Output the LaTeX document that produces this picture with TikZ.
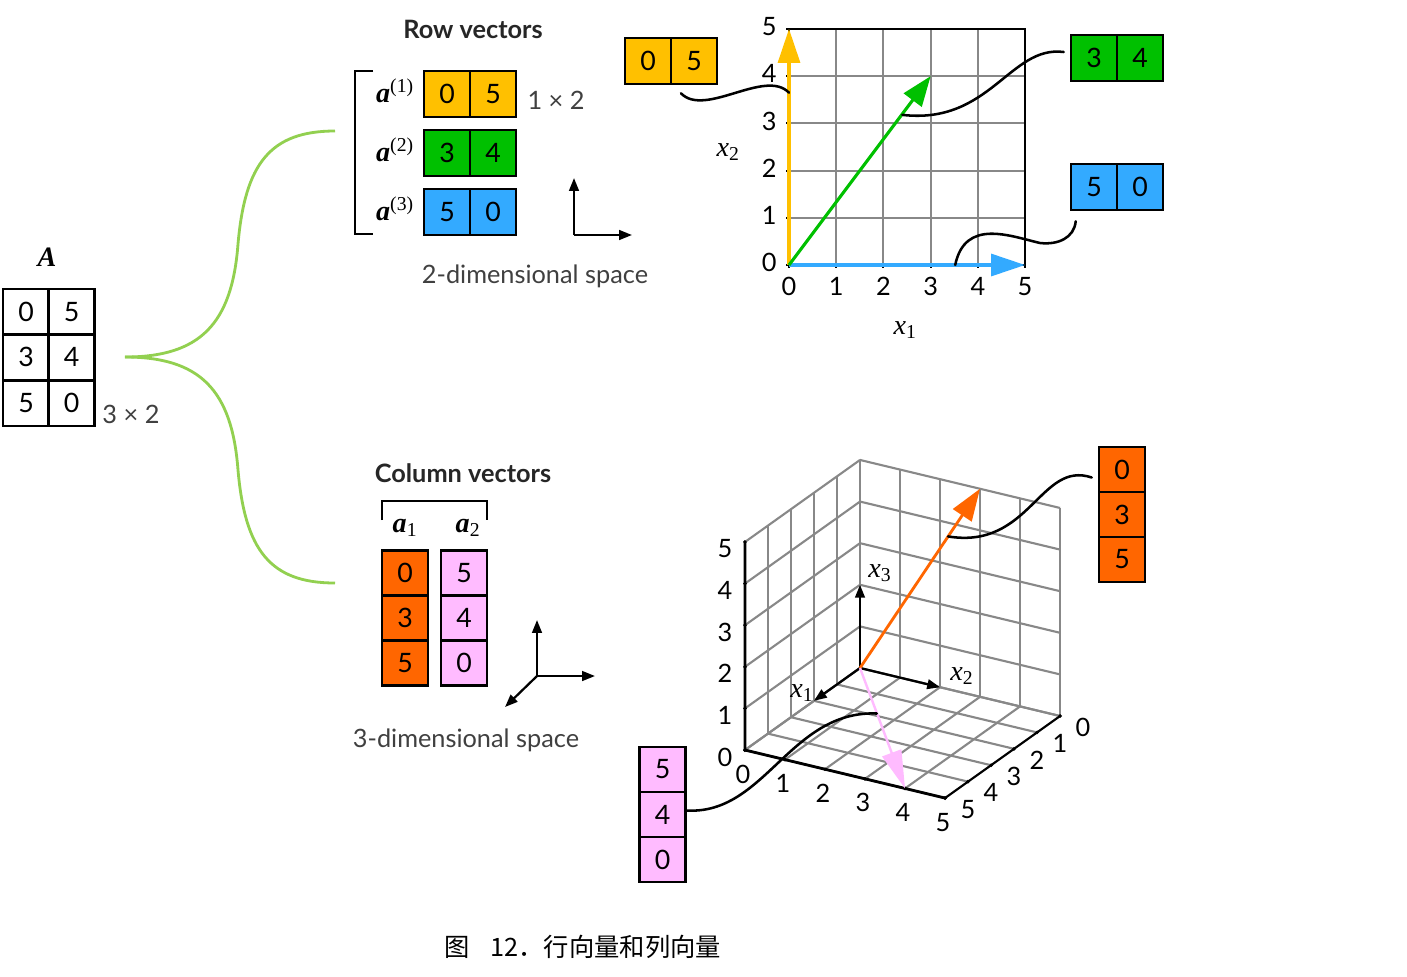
\documentclass[tikz,border=0pt]{standalone}
\usepackage[no-math]{fontspec}
\setmainfont{Lato}
\newfontfamily\cjkfont{Noto Sans CJK SC}
\newfontfamily\seriffont{Liberation Serif}
\usetikzlibrary{arrows.meta}

\definecolor{rowyellow}{HTML}{FFC000}
\definecolor{rowgreen}{HTML}{00C000}
\definecolor{rowblue}{HTML}{33AAFF}
\definecolor{colorange}{HTML}{FF6600}
\definecolor{colpink}{HTML}{FFBBFF}
\definecolor{bracegreen}{HTML}{92D050}
\definecolor{gridgray}{HTML}{888888}
\definecolor{textgray}{HTML}{404040}
\definecolor{titlegray}{HTML}{262626}

% bold vector name and italic variable
\newcommand\vecname[1]{{\seriffont\bfseries\itshape #1}}
\newcommand\varname[1]{{\seriffont\itshape #1}}

\begin{document}
\begin{tikzpicture}[x=0.025cm, y=-0.025cm,
        cell/.style={draw, line width=1.8pt, minimum width=1.15cm, minimum height=1.15cm, inner sep=0pt, font=\fontsize{19}{22}\selectfont},
        mcell/.style={cell, minimum width=1.14cm, minimum height=1.14cm, fill=white},
        ccell/.style={cell, minimum height=1.13cm},
        lbl/.style={font=\fontsize{18}{21}\selectfont, text=textgray, inner sep=0pt},
        ticklbl/.style={font=\fontsize{18}{21}\selectfont, inner sep=0pt},
        headline/.style={font=\fontsize{18}{21}\selectfont\bfseries, text=titlegray, inner sep=0pt},
        vlbl/.style={font=\fontsize{20}{24}\selectfont, inner sep=0pt},
        wave/.style={line width=1.8pt, line cap=round},
        gridline/.style={gridgray, line width=1.5pt},
        axarrow/.style={line width=1.6pt, -{Triangle[length=0.32cm, width=0.24cm]}}
    ]
    \fill[white] (0,0) rectangle (1407,976);
    \useasboundingbox (0,0) rectangle (1407,976);

    % Matrix A
    \node[vlbl] (Alabel) at (47,257) {\vecname{A}};
    \foreach \r/\c/\v in {1/1/0, 1/2/5, 2/1/3, 2/2/4, 3/1/5, 3/2/0}
        \node[mcell] (a\r\c) at ({-19.5+45.5*\c}, {266+45.7*\r}) {\v};
    \node[lbl] (Asize) at (131,414) {3 × 2};

    % green brace
    \coordinate (fork) at (125,357);
    \coordinate (rowend) at (335,131);
    \coordinate (colend) at (335,583);
    \draw[bracegreen, line width=2pt] (fork) .. controls (200,357) and (232,324) .. (238,244)
        .. controls (245,164) and (270,131) .. (rowend);
    \draw[bracegreen, line width=2pt] (fork) .. controls (200,357) and (232,390) .. (238,470)
        .. controls (245,550) and (270,583) .. (colend);

    % Row vectors
    \node[headline] (rowtitle) at (473,29) {Row vectors};
    \draw[line width=1.7pt] (373,71) -- (355,71) -- (355,234) -- (373,234);
    \foreach \n/\y/\col/\u/\v in {1/94/rowyellow/0/5, 2/153/rowgreen/3/4, 3/212/rowblue/5/0} {
        \node[cell, fill=\col] (rowl\n) at (447,\y) {\u};
        \node[cell, fill=\col] (rowr\n) at (493,\y) {\v};
        \node[vlbl] (rowlab\n) at (395,\y-3) {\vecname{a}\textsuperscript{\seriffont(\n)}};
    }
    \node[lbl] (rowsize) at (556,100) {1 × 2};
    \coordinate (ax2o) at (574,235);
    \coordinate (ax2up) at (574,178);
    \coordinate (ax2rt) at (632,235);
    \draw[axarrow] (ax2o) -- (ax2up);
    \draw[axarrow] (ax2o) -- (ax2rt);
    \node[lbl] (space2) at (535,276) {2-dimensional space};

    % Column vectors
    \node[headline] (coltitle) at (463,473) {Column vectors};
    \draw[line width=1.7pt] (382,520) -- (382,501) -- (487,501) -- (487,520);
    \node[vlbl] (collab1) at (405,528) {\vecname{a}\textsubscript{\seriffont 1}};
    \node[vlbl] (collab2) at (468,528) {\vecname{a}\textsubscript{\seriffont 2}};
    \foreach \n/\y/\u/\v in {1/573/0/5, 2/618/3/4, 3/663/5/0} {
        \node[ccell, fill=colorange] (colo\n) at (405,\y) {\u};
        \node[ccell, fill=colpink] (colp\n) at (464,\y) {\v};
    }
    \coordinate (ax3o) at (537,676);
    \coordinate (ax3up) at (537,620);
    \coordinate (ax3rt) at (595,676);
    \coordinate (ax3dn) at (505,707);
    \draw[axarrow] (ax3o) -- (ax3up);
    \draw[axarrow] (ax3o) -- (ax3rt);
    \draw[axarrow] (ax3o) -- (ax3dn);
    \node[lbl] (space3) at (466,740) {3-dimensional space};

    % 2D plane
    \begin{scope}[shift={(789,265)}, x=1.18cm, y=1.18cm]
        \foreach \i in {1,...,4} {
            \draw[gridline] (\i,0) -- (\i,5);
            \draw[gridline] (0,\i) -- (5,\i);
        }
        \draw[line width=1.8pt] (0,0) -- (0,5) -- (5,5) -- (5,0) -- cycle;
        \foreach \i in {0,...,5} {
            \draw[line width=1.4pt] (\i,0) -- (\i,-0.07);
            \draw[line width=1.4pt] (0,\i) -- (-0.07,\i);
            \node[ticklbl] (pxt\i) at (\i,-0.45) {\i};
            \node[ticklbl] (pyt\i) at (-0.42,\i+0.05) {\i};
        }
        \coordinate (o2) at (0,0);
        \coordinate (tipy) at (0,5);
        \coordinate (tipb) at (5,0);
        \coordinate (tipg) at (3,4);
        \draw[rowyellow, line width=2.2pt, -{Triangle[length=0.85cm, width=0.55cm]}] (o2) -- (tipy);
        \draw[rowblue, line width=2.2pt, -{Triangle[length=0.85cm, width=0.55cm]}] (o2) -- (tipb);
        \draw[rowgreen, line width=2.2pt, -{Triangle[length=0.75cm, width=0.55cm]}] (o2) -- (tipg);
        \node[vlbl] (px2) at (-1.29,2.39) {\varname{x}\textsubscript{\seriffont 2}};
        \node[vlbl] (px1) at (2.46,-1.38) {\varname{x}\textsubscript{\seriffont 1}};
        \coordinate (yend) at (0,3.65);
        \coordinate (gend) at (2.4,3.18);
        \coordinate (bend) at (3.52,0);
    \end{scope}

    \node[cell, fill=rowyellow] (pya) at (648,61) {0};
    \node[cell, fill=rowyellow] (pyb) at (694,61) {5};
    \node[cell, fill=rowgreen] (pga) at (1094,58) {3};
    \node[cell, fill=rowgreen] (pgb) at (1140,58) {4};
    \node[cell, fill=rowblue] (pba) at (1094,187) {5};
    \node[cell, fill=rowblue] (pbb) at (1140,187) {0};

    \draw[wave] ([xshift=0.28cm, yshift=-0.2cm]pyb.south west) .. controls (705,118) and (765,68) .. (yend);
    \draw[wave] ([xshift=-0.15cm, yshift=0.15cm]pga.west) .. controls (1010,45) and (990,125) .. (gend);
    \draw[wave] ([xshift=0.15cm, yshift=-0.25cm]pba.south west) .. controls (1074,238) and (1058,245) .. (1040,243)
        .. controls (1010,236) and (965,218) .. (bend);

    % 3D space
    \begin{scope}[shift={(860,668)}, x={(-0.575cm,-0.41cm)}, y={(1cm,-0.24cm)}, z={(0cm,1.04cm)}]
        \foreach \i in {0,...,5} {
            \draw[gridline] (\i,0,0) -- (\i,5,0);
            \draw[gridline] (0,\i,0) -- (5,\i,0);
            \draw[gridline] (0,\i,0) -- (0,\i,5);
            \draw[gridline] (0,0,\i) -- (0,5,\i);
            \draw[gridline] (\i,0,0) -- (\i,0,5);
            \draw[gridline] (0,0,\i) -- (5,0,\i);
        }
        \draw[line width=2pt] (5,0,5) -- (5,0,0) -- (5,5,0);
        \draw[line width=1.4pt] (5,5,0) -- (0,5,0);
        \foreach \i in {0,...,5} {
            \fill (5,0,\i) circle (1.4pt);
            \fill (5,\i,0) circle (1.4pt);
            \fill (\i,5,0) circle (1.4pt);
            \node[ticklbl, xshift=-0.5cm, yshift=-0.175cm] (qz\i) at (5,0,\i) {\i};
            \node[ticklbl, xshift=-0.05cm, yshift=-0.6cm] (qy\i) at (5,\i,0) {\i};
            \node[ticklbl, xshift=0.575cm, yshift=-0.275cm] (qx\i) at (\i,5,0) {\i};
        }
        \coordinate (o3) at (0,0,0);
        \coordinate (ax1e) at (2,0,0);
        \coordinate (ax2e) at (0,2,0);
        \coordinate (ax3e) at (0,0,2);
        \draw[axarrow] (o3) -- (ax1e);
        \draw[axarrow] (o3) -- (ax2e);
        \draw[axarrow] (o3) -- (ax3e);
        \coordinate (tipo) at (0,3,5);
        \coordinate (tipp) at (5,4,0);
        \draw[colorange, line width=2pt, -{Triangle[length=0.8cm, width=0.55cm]}] (o3) -- (tipo);
        \draw[colpink, line width=1.7pt, -{Triangle[length=0.95cm, width=0.5cm]}] (o3) -- (tipp);
        \coordinate (oend) at (0,2.2,3.67);
        \coordinate (pend) at (1.89,1.51,0);
    \end{scope}
    \node[vlbl] (qlab1) at (802,693) {\varname{x}\textsubscript{\seriffont 1}};
    \node[vlbl] (qlab2) at (962,676) {\varname{x}\textsubscript{\seriffont 2}};
    \node[vlbl] (qlab3) at (880,573) {\varname{x}\textsubscript{\seriffont 3}};

    \foreach \n/\y/\u in {1/469.5/0, 2/514.5/3, 3/559.5/5}
        \node[ccell, fill=colorange] (qo\n) at (1122,\y) {\u};
    \foreach \n/\y/\u in {1/769.5/5, 2/814.5/4, 3/859.5/0}
        \node[ccell, fill=colpink] (qp\n) at (662.5,\y) {\u};

    \draw[wave] ([xshift=-0.15cm, yshift=-0.2cm]qo1.west) .. controls (1040,460) and (1030,550) .. (oend);
    \draw[wave] ([yshift=0.1cm]qp2.east) .. controls (765,815) and (790,710) .. (pend);

    % caption
    \node[font=\cjkfont\fontsize{18}{22}\selectfont, inner sep=0pt] (caption) at (583,947) {图\hspace{0.8em}12．行向量和列向量};
\end{tikzpicture}
\end{document}
